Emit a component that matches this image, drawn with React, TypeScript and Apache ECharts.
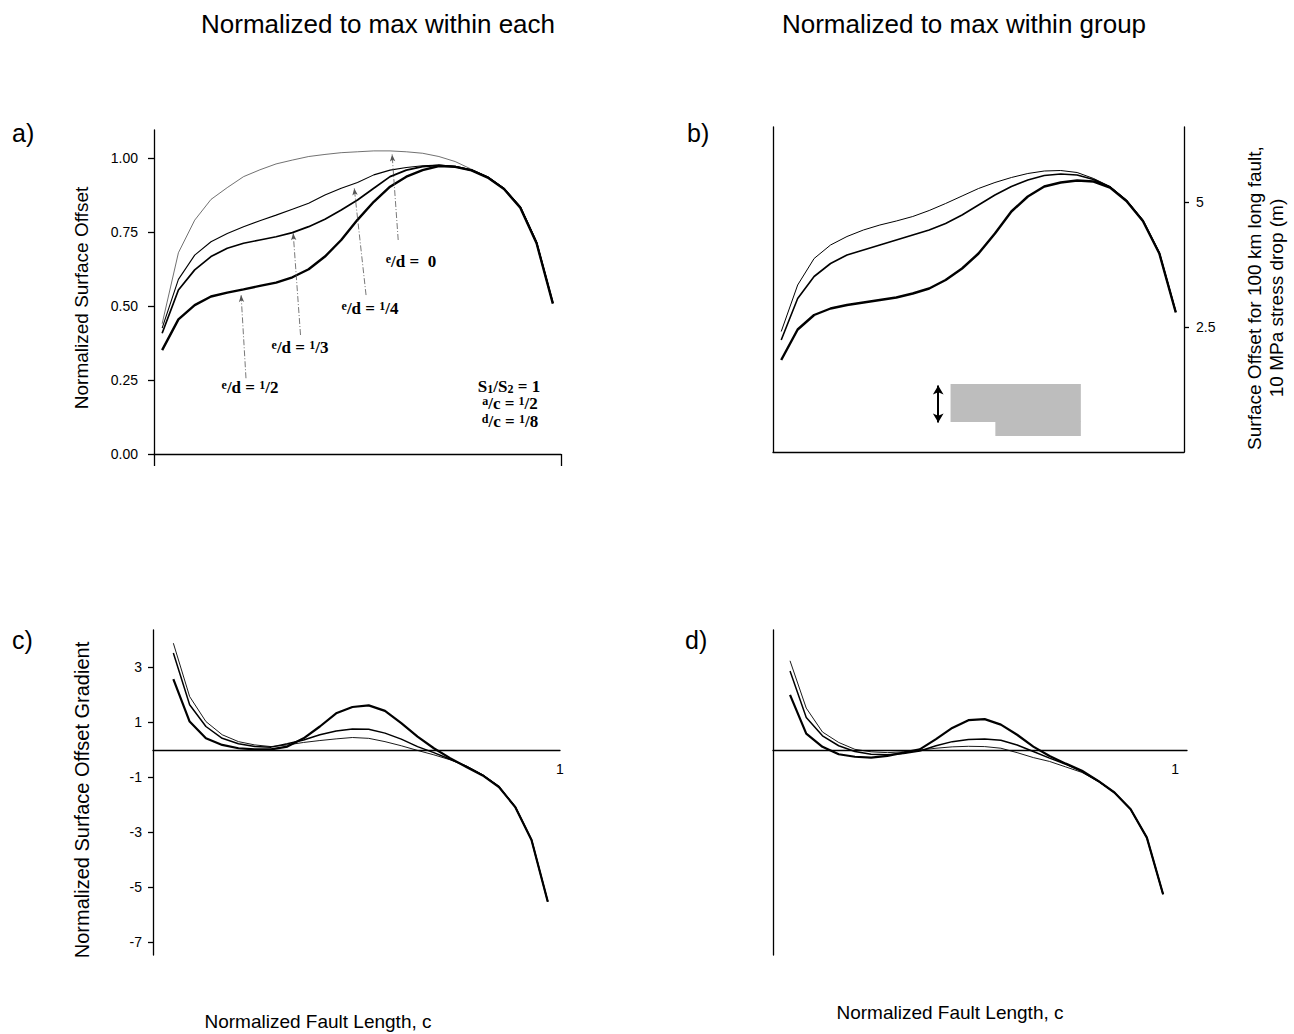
import React, { useEffect, useRef } from "react";
import * as echarts from "echarts";

// x positions (normalized fault length)
const xOffset = [0.02, 0.06, 0.10, 0.14, 0.18, 0.22, 0.26, 0.30, 0.34, 0.38, 0.42, 0.46, 0.50, 0.54, 0.58, 0.62, 0.66, 0.70, 0.74, 0.78, 0.82, 0.86, 0.90, 0.94, 0.98];
const xGrad = [0.05, 0.09, 0.13, 0.17, 0.21, 0.25, 0.29, 0.33, 0.37, 0.41, 0.45, 0.49, 0.53, 0.57, 0.61, 0.65, 0.69, 0.73, 0.77, 0.81, 0.85, 0.89, 0.93, 0.97];

// a) normalized to max within each
const aEd0 = [0.44, 0.68, 0.79, 0.86, 0.90, 0.937, 0.96, 0.98, 0.993, 1.005, 1.012, 1.018, 1.021, 1.024, 1.024, 1.021, 1.016, 1.005, 0.988, 0.962, 0.937, 0.898, 0.836, 0.717, 0.51];
const aEd14 = [0.425, 0.59, 0.672, 0.717, 0.745, 0.768, 0.788, 0.807, 0.827, 0.847, 0.875, 0.898, 0.917, 0.943, 0.959, 0.968, 0.974, 0.976, 0.972, 0.960, 0.936, 0.897, 0.835, 0.716, 0.51];
const aEd13 = [0.408, 0.554, 0.622, 0.667, 0.695, 0.712, 0.723, 0.734, 0.748, 0.768, 0.793, 0.824, 0.858, 0.898, 0.937, 0.959, 0.971, 0.975, 0.971, 0.959, 0.935, 0.896, 0.834, 0.714, 0.51];
const aEd12 = [0.351, 0.455, 0.503, 0.532, 0.545, 0.556, 0.568, 0.579, 0.597, 0.624, 0.667, 0.723, 0.791, 0.852, 0.903, 0.937, 0.959, 0.973, 0.970, 0.958, 0.934, 0.895, 0.832, 0.712, 0.508];

// b) surface offset (m), 100 km fault, 10 MPa
const bThin = [2.41, 3.34, 3.87, 4.14, 4.31, 4.44, 4.54, 4.62, 4.71, 4.83, 4.97, 5.12, 5.27, 5.39, 5.49, 5.57, 5.62, 5.63, 5.59, 5.47, 5.31, 5.04, 4.64, 3.99, 2.81];
const bMed = [2.24, 3.07, 3.51, 3.77, 3.94, 4.04, 4.14, 4.24, 4.34, 4.44, 4.57, 4.74, 4.94, 5.14, 5.31, 5.44, 5.53, 5.56, 5.54, 5.45, 5.30, 5.03, 4.63, 3.98, 2.80];
const bThick = [1.84, 2.45, 2.74, 2.87, 2.94, 2.99, 3.04, 3.09, 3.17, 3.27, 3.44, 3.67, 3.97, 4.37, 4.81, 5.11, 5.31, 5.39, 5.43, 5.41, 5.29, 5.02, 4.62, 3.97, 2.79];

// c) gradient, normalized within each
const cThin = [3.88, 1.94, 1.03, 0.55, 0.30, 0.18, 0.12, 0.18, 0.27, 0.34, 0.40, 0.45, 0.42, 0.30, 0.15, -0.02, -0.18, -0.36, -0.58, -0.90, -1.33, -2.06, -3.26, -5.51];
const cMed = [3.52, 1.64, 0.85, 0.42, 0.22, 0.12, 0.10, 0.22, 0.36, 0.55, 0.69, 0.76, 0.75, 0.61, 0.39, 0.12, -0.10, -0.34, -0.60, -0.92, -1.34, -2.07, -3.27, -5.52];
const cThick = [2.57, 1.03, 0.42, 0.18, 0.06, 0.02, 0.02, 0.12, 0.42, 0.85, 1.33, 1.56, 1.62, 1.42, 0.97, 0.48, 0.06, -0.30, -0.62, -0.93, -1.35, -2.08, -3.28, -5.52];

// d) gradient, normalized within group
const dThin = [3.24, 1.52, 0.65, 0.27, 0.02, -0.07, -0.10, -0.07, -0.01, 0.06, 0.11, 0.13, 0.12, 0.06, -0.10, -0.28, -0.42, -0.62, -0.82, -1.15, -1.55, -2.16, -3.19, -5.25];
const dMed = [2.87, 1.18, 0.51, 0.15, -0.06, -0.16, -0.18, -0.13, -0.04, 0.15, 0.30, 0.38, 0.40, 0.35, 0.18, -0.06, -0.30, -0.52, -0.79, -1.13, -1.55, -2.16, -3.19, -5.25];
const dThick = [2.0, 0.59, 0.11, -0.16, -0.25, -0.28, -0.22, -0.10, 0.02, 0.39, 0.80, 1.08, 1.12, 0.92, 0.55, 0.12, -0.22, -0.50, -0.76, -1.13, -1.55, -2.16, -3.19, -5.25];

// tick values
const aTicks = [0, 0.25, 0.5, 0.75, 1.0];
const bTicks = [2.5, 5];
const cTicks = [-7, -5, -3, -1, 1, 3];
const xEndTick = [1];

const SANS = '"Liberation Sans", Arial, Helvetica, sans-serif';
const SERIF = '"Liberation Serif", "Times New Roman", serif';

const pair = (xs: number[], ys: number[]) => xs.map((x, i) => [x, ys[i]]);

const line = (xi: number, yi: number, xs: number[], ys: number[], width: number, extra: any = {}) => ({
  type: "line",
  xAxisIndex: xi,
  yAxisIndex: yi,
  data: pair(xs, ys),
  showSymbol: false,
  symbol: "none",
  smooth: false,
  silent: true,
  lineStyle: { color: "#000", width },
  ...extra,
});

const axisLineStyle = { color: "#000", width: 1.3 };

const richLabel = {
  s: { fontSize: 12, fontWeight: "bold", fontFamily: SERIF, verticalAlign: "top", fill: "#000" },
  b: { fontSize: 12, fontWeight: "bold", fontFamily: SERIF, verticalAlign: "bottom", fill: "#000" },
};

const annot = (text: string, x: number, y: number) => ({
  type: "text",
  x,
  y,
  silent: true,
  style: {
    text,
    fontSize: 17,
    fontWeight: "bold",
    fontFamily: SERIF,
    fill: "#000",
    align: "center",
    verticalAlign: "middle",
    rich: richLabel,
  },
});

const plainText = (text: string, x: number, y: number, size: number, rotation = 0, extra: any = {}) => ({
  type: "text",
  x,
  y,
  rotation,
  silent: true,
  style: {
    text,
    fontSize: size,
    fontFamily: SANS,
    fill: "#000",
    align: "center",
    verticalAlign: "middle",
    ...extra,
  },
});

const arrowLine = (x1: number, y1: number, x2: number, y2: number) => [
  { coord: [x1, y1], symbol: "none" },
  { coord: [x2, y2], symbol: "arrow" },
];

// y range for the gradient panels
const gMin = -7.46;
const gMax = 4.36;
const gTop = 630;
const gHeight = 325;
const zeroOffset = -(gHeight * (0 - gMin)) / (gMax - gMin);

export default function App() {
  const ref = useRef<HTMLDivElement>(null);
  useEffect(() => {
    const chart = echarts.init(ref.current!, null, { renderer: "svg" });
    const option: any = {
      animation: false,
      backgroundColor: "#fff",
      grid: [
        { left: 154, top: 130, width: 407, height: 324, containLabel: false, outerBoundsMode: "none" },
        { left: 773, top: 127, width: 411, height: 325, containLabel: false, outerBoundsMode: "none" },
        { left: 153, top: gTop, width: 407, height: gHeight, containLabel: false, outerBoundsMode: "none" },
        { left: 773, top: gTop, width: 414, height: gHeight, containLabel: false, outerBoundsMode: "none" },
      ],
      xAxis: [
        {
          gridIndex: 0, type: "value", min: 0, max: 1,
          axisLine: { show: true, lineStyle: axisLineStyle },
          axisTick: { show: true, customValues: [0, 1], length: 12, lineStyle: axisLineStyle },
          axisLabel: { show: false },
          splitLine: { show: false },
        },
        {
          gridIndex: 1, type: "value", min: 0, max: 1,
          axisLine: { show: true, lineStyle: axisLineStyle },
          axisTick: { show: false },
          axisLabel: { show: false },
          splitLine: { show: false },
        },
        {
          gridIndex: 2, type: "value", min: 0, max: 1, offset: zeroOffset,
          axisLine: { show: true, onZero: false, lineStyle: axisLineStyle },
          axisTick: { show: false },
          axisLabel: { show: true, customValues: xEndTick, fontSize: 14, fontFamily: SANS, color: "#000", margin: 12 },
          splitLine: { show: false },
        },
        {
          gridIndex: 3, type: "value", min: 0.008, max: 1.029, offset: zeroOffset,
          axisLine: { show: true, onZero: false, lineStyle: axisLineStyle },
          axisTick: { show: false },
          axisLabel: { show: true, customValues: xEndTick, fontSize: 14, fontFamily: SANS, color: "#000", margin: 12 },
          splitLine: { show: false },
        },
      ],
      yAxis: [
        {
          gridIndex: 0, type: "value", min: 0, max: 1.0946,
          axisLine: { show: true, lineStyle: axisLineStyle },
          axisTick: { show: true, customValues: aTicks, length: 6, lineStyle: axisLineStyle },
          axisLabel: {
            show: true, customValues: aTicks, fontSize: 14, fontFamily: SANS, color: "#000", margin: 16,
            formatter: (v: number) => v.toFixed(2),
          },
          splitLine: { show: false },
        },
        {
          gridIndex: 1, type: "value", min: 0, max: 6.5, position: "left",
          axisLine: { show: true, lineStyle: axisLineStyle },
          axisTick: { show: false },
          axisLabel: { show: false },
          splitLine: { show: false },
        },
        {
          gridIndex: 1, type: "value", min: 0, max: 6.5, position: "right",
          axisLine: { show: true, lineStyle: axisLineStyle },
          axisTick: { show: true, customValues: bTicks, length: 5, lineStyle: axisLineStyle },
          axisLabel: {
            show: true, customValues: bTicks, fontSize: 14, fontFamily: SANS, color: "#000", margin: 12,
            formatter: (v: number) => String(v),
          },
          splitLine: { show: false },
        },
        {
          gridIndex: 2, type: "value", min: gMin, max: gMax,
          axisLine: { show: true, onZero: false, lineStyle: axisLineStyle },
          axisTick: { show: true, customValues: cTicks, length: 5, lineStyle: axisLineStyle },
          axisLabel: {
            show: true, customValues: cTicks, fontSize: 14, fontFamily: SANS, color: "#000", margin: 11,
            formatter: (v: number) => String(v),
          },
          splitLine: { show: false },
        },
        {
          gridIndex: 3, type: "value", min: gMin, max: gMax,
          axisLine: { show: true, onZero: false, lineStyle: axisLineStyle },
          axisTick: { show: false },
          axisLabel: { show: false },
          splitLine: { show: false },
        },
      ],
      series: [
        // a
        line(0, 0, xOffset, aEd0, 0.7, {
          lineStyle: { color: "#333", width: 0.7 },
          markLine: {
            silent: true, symbolSize: [4, 7], label: { show: false },
            lineStyle: { type: [6, 2, 1, 2], color: "#555", width: 0.8 },
            data: [
              arrowLine(0.600, 0.723, 0.585, 1.012),
              arrowLine(0.521, 0.537, 0.492, 0.898),
              arrowLine(0.360, 0.402, 0.342, 0.746),
              arrowLine(0.226, 0.256, 0.214, 0.537),
            ],
          },
        }),
        line(0, 0, xOffset, aEd14, 1.1),
        line(0, 0, xOffset, aEd13, 1.7),
        line(0, 0, xOffset, aEd12, 2.4),
        // b
        line(1, 1, xOffset, bThin, 1.0, {
          markArea: {
            silent: true,
            itemStyle: { color: "#bdbdbd" },
            data: [
              [{ coord: [0.432, 1.36] }, { coord: [0.749, 0.6] }],
              [{ coord: [0.541, 0.61] }, { coord: [0.749, 0.32] }],
            ],
          },
          markLine: {
            silent: true, symbol: ["arrow", "arrow"], symbolSize: [8, 9], label: { show: false },
            lineStyle: { type: "solid", color: "#000", width: 2 },
            data: [[{ coord: [0.402, 1.33] }, { coord: [0.402, 0.59] }]],
          },
        }),
        line(1, 1, xOffset, bMed, 1.6),
        line(1, 1, xOffset, bThick, 2.4),
        // c
        line(2, 3, xGrad, cThin, 0.9),
        line(2, 3, xGrad, cMed, 1.5),
        line(2, 3, xGrad, cThick, 2.2),
        // d
        line(3, 4, xGrad, dThin, 0.9),
        line(3, 4, xGrad, dMed, 1.5),
        line(3, 4, xGrad, dThick, 2.2),
      ],
      graphic: [
        plainText("Normalized to max within each", 378, 24, 26),
        plainText("Normalized to max within group", 964, 24, 26),
        plainText("a)", 12, 133, 25, 0, { align: "left" }),
        plainText("b)", 687, 133, 25, 0, { align: "left" }),
        plainText("c)", 12, 640, 25, 0, { align: "left" }),
        plainText("d)", 685, 640, 25, 0, { align: "left" }),
        plainText("Normalized Surface Offset", 81, 298, 19, Math.PI / 2),
        plainText("Normalized Surface Offset Gradient", 82, 800, 20, Math.PI / 2),
        plainText("Surface Offset for 100 km long fault,\n10 MPa stress drop (m)", 1265, 298, 19, Math.PI / 2, { lineHeight: 22 }),
        plainText("Normalized Fault Length, c", 318, 1021, 19),
        plainText("Normalized Fault Length, c", 950, 1012, 19),
        annot("{s|e}/d =  0", 411, 261),
        annot("{s|e}/d = {s|1}/4", 370, 308),
        annot("{s|e}/d = {s|1}/3", 300, 347),
        annot("{s|e}/d = {s|1}/2", 250, 387),
        annot("S{b|1}/S{b|2} = 1", 509, 386),
        annot("{s|a}/c = {s|1}/2", 510, 403),
        annot("{s|d}/c = {s|1}/8", 510, 421),
      ],
    };
    chart.setOption(option);
    return () => chart.dispose();
  }, []);
  return (
    <div
      ref={ref}
      style={{ position: "absolute", left: 0, top: 0, width: 1294, height: 1034, background: "#fff" }}
    />
  );
}
